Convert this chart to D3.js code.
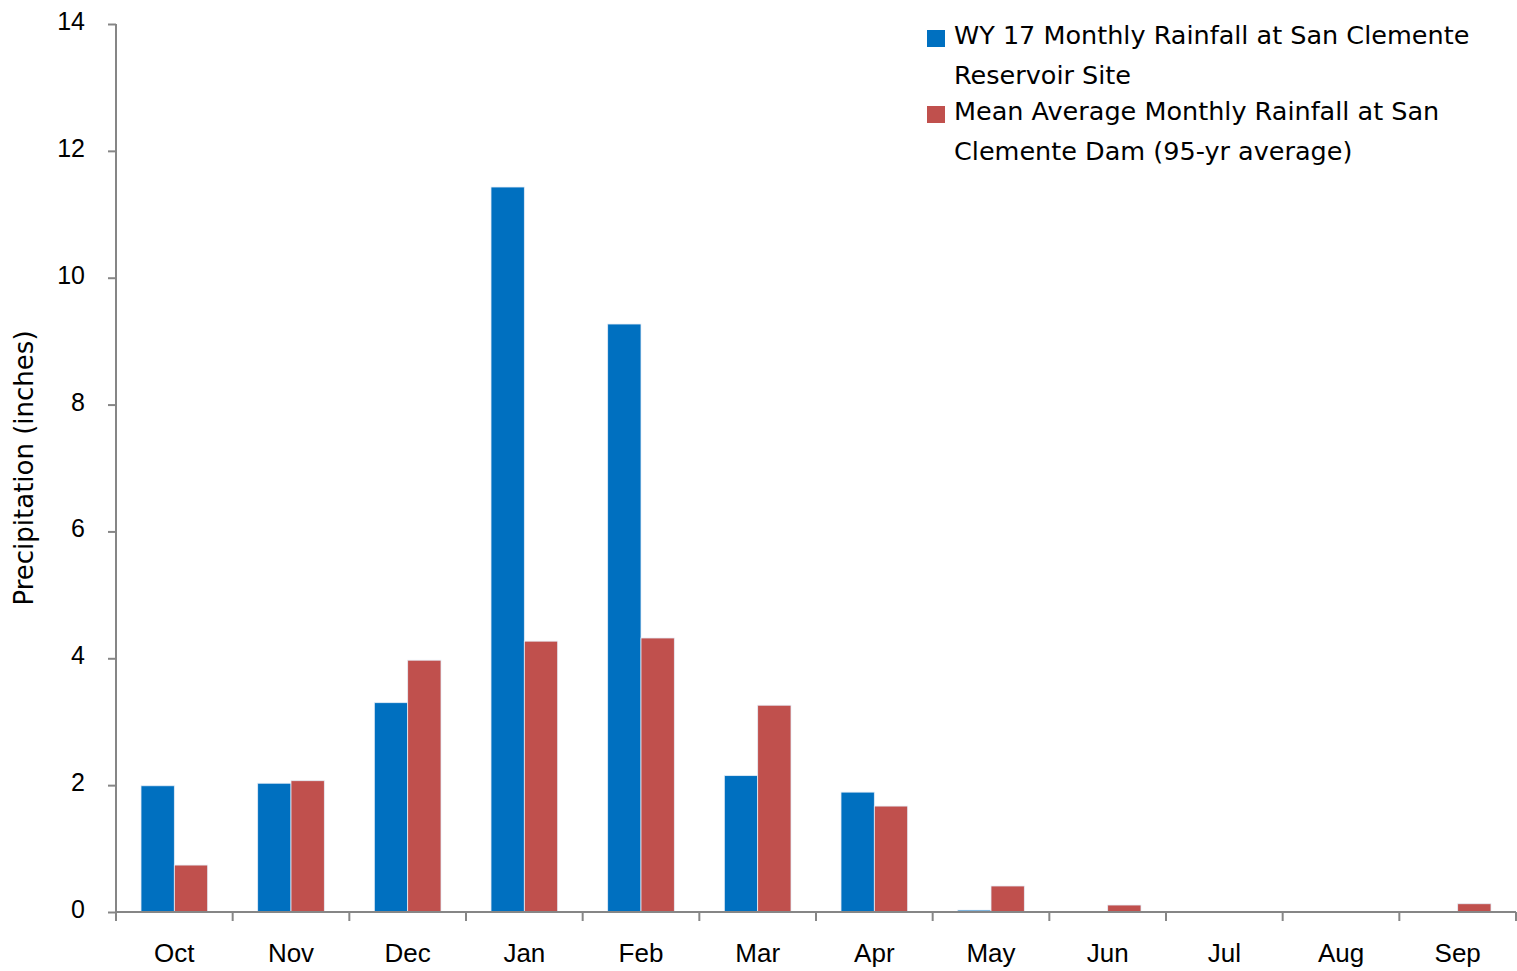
<!DOCTYPE html>
<html>
<head>
<meta charset="utf-8">
<script src="https://cdn.jsdelivr.net/npm/d3@7"></script>
<style>
  body { margin: 0; background: #fff; }
  svg { display: block; font-family: "DejaVu Sans", sans-serif; }
</style>
</head>
<body>
<div id="chart"></div>
<script>
// data
var months = ['Oct', 'Nov', 'Dec', 'Jan', 'Feb', 'Mar', 'Apr', 'May', 'Jun', 'Jul', 'Aug', 'Sep'];
var wy17 = [1.99, 2.03, 3.30, 11.43, 9.27, 2.15, 1.89, 0.03, 0, 0, 0, 0];
var meanAvg = [0.74, 2.07, 3.97, 4.27, 4.32, 3.26, 1.67, 0.41, 0.11, 0, 0, 0.13];
var yTicks = [0, 2, 4, 6, 8, 10, 12, 14];
var seriesNames = [
    ['WY 17 Monthly Rainfall at San Clemente', 'Reservoir Site'],
    ['Mean Average Monthly Rainfall at San', 'Clemente Dam (95-yr average)']
];
var colors = ['#0070C0', '#C0504D'];

var width = 1517, height = 971;
var margin = {top: 24, right: 1, bottom: 59, left: 116};
var w = width - margin.left - margin.right;
var h = height - margin.top - margin.bottom;

var svg = d3.select('#chart').append('svg')
    .attr('width', width)
    .attr('height', height);

var g = svg.append('g')
    .attr('transform', `translate(${margin.left},${margin.top})`);

var x = d3.scaleBand()
    .domain(months)
    .range([0, w]);

// excel-style gap width 150%
var barW = x.bandwidth() / 3.5;

var y = d3.scaleLinear()
    .domain([0, 14])
    .range([h, 0]);

var series = [wy17, meanAvg];

series.forEach(function(vals, s) {
    g.append('g')
        .selectAll('rect')
        .data(vals)
        .enter()
        .append('rect')
        .attr('x', function(d, i) {
            return x(months[i]) + x.bandwidth() / 2 - barW + s * barW;
        })
        .attr('y', function(d) { return y(d); })
        .attr('width', barW)
        .attr('height', function(d) { return h - y(d); })
        .attr('fill', colors[s])
        .attr('stroke', function(d) { return d > 0 ? '#e6eef7' : 'none'; })
        .attr('stroke-width', 0.8);
});

var axisColor = '#868686';

// y axis
var yAxis = g.append('g')
    .call(d3.axisLeft(y).tickValues(yTicks).tickSize(8).tickPadding(23).tickFormat(d3.format('d')));
yAxis.select('.domain').attr('stroke', axisColor).attr('stroke-width', 2).attr('d', `M0,${h}V0`);
yAxis.selectAll('.tick line').attr('stroke', axisColor).attr('stroke-width', 2);
yAxis.selectAll('.tick text')
    .attr('fill', '#000')
    .style('font-size', '25px')
    .attr('dy', '0.22em');

// x axis
var xAxis = g.append('g')
    .attr('transform', `translate(0,${h})`)
    .call(d3.axisBottom(x).tickSize(0).tickPadding(32));
xAxis.select('.domain').attr('stroke', axisColor).attr('stroke-width', 2).attr('d', `M0,0H${w}`);
xAxis.selectAll('.tick text').attr('fill', '#000').style('font-size', '26px');
// tick marks between categories
xAxis.selectAll('.sep')
    .data(d3.range(months.length + 1))
    .enter()
    .append('line')
    .attr('class', 'sep')
    .attr('x1', function(i) { return i * x.step(); })
    .attr('x2', function(i) { return i * x.step(); })
    .attr('y1', 0)
    .attr('y2', 9)
    .attr('stroke', axisColor)
    .attr('stroke-width', 2);

// y axis title
svg.append('text')
    .attr('transform', 'translate(33,468) rotate(-90)')
    .attr('text-anchor', 'middle')
    .style('font-size', '26px')
    .text('Precipitation (inches)');

// legend
var legend = svg.append('g').attr('transform', 'translate(927,30)');
seriesNames.forEach(function(lines, s) {
    var row = legend.append('g').attr('transform', `translate(0,${s * 76})`);
    row.append('rect')
        .attr('x', 0).attr('y', 0)
        .attr('width', 18).attr('height', 17)
        .attr('fill', colors[s]);
    lines.forEach(function(t, k) {
        row.append('text')
            .attr('x', 27)
            .attr('y', 14 + k * 40)
            .style('font-size', '25.5px')
            .text(t);
    });
});
</script>
</body>
</html>
